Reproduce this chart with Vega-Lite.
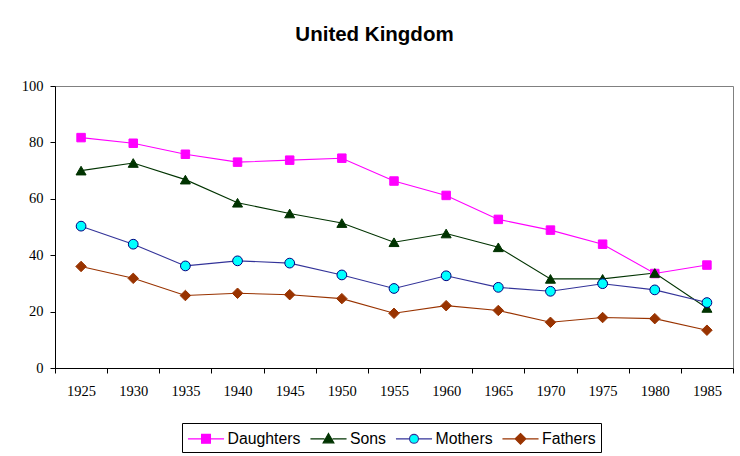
{
  "$schema": "https://vega.github.io/schema/vega-lite/v6.json",
  "autosize": {"type": "none"},
  "width": 678,
  "height": 282,
  "padding": {"left": 55, "top": 86, "right": 7, "bottom": 88},
  "background": "white",
  "title": {
    "text": "United Kingdom",
    "font": "Liberation Sans",
    "fontSize": 20.5,
    "fontWeight": "bold",
    "color": "black",
    "anchor": "middle",
    "dx": -19.5,
    "offset": 33
  },
  "data": {
    "values": [
      {"year": "1925", "series": "Daughters", "value": 81.7},
      {"year": "1930", "series": "Daughters", "value": 79.7},
      {"year": "1935", "series": "Daughters", "value": 75.8},
      {"year": "1940", "series": "Daughters", "value": 73.0},
      {"year": "1945", "series": "Daughters", "value": 73.7},
      {"year": "1950", "series": "Daughters", "value": 74.4},
      {"year": "1955", "series": "Daughters", "value": 66.3},
      {"year": "1960", "series": "Daughters", "value": 61.2},
      {"year": "1965", "series": "Daughters", "value": 52.7},
      {"year": "1970", "series": "Daughters", "value": 48.9},
      {"year": "1975", "series": "Daughters", "value": 43.9},
      {"year": "1980", "series": "Daughters", "value": 33.5},
      {"year": "1985", "series": "Daughters", "value": 36.5},
      {"year": "1925", "series": "Sons", "value": 70.0},
      {"year": "1930", "series": "Sons", "value": 72.7},
      {"year": "1935", "series": "Sons", "value": 66.8},
      {"year": "1940", "series": "Sons", "value": 58.6},
      {"year": "1945", "series": "Sons", "value": 54.8},
      {"year": "1950", "series": "Sons", "value": 51.4},
      {"year": "1955", "series": "Sons", "value": 44.6},
      {"year": "1960", "series": "Sons", "value": 47.7},
      {"year": "1965", "series": "Sons", "value": 42.8},
      {"year": "1970", "series": "Sons", "value": 31.6},
      {"year": "1975", "series": "Sons", "value": 31.6},
      {"year": "1980", "series": "Sons", "value": 33.7},
      {"year": "1985", "series": "Sons", "value": 21.3},
      {"year": "1925", "series": "Mothers", "value": 50.3},
      {"year": "1930", "series": "Mothers", "value": 43.9},
      {"year": "1935", "series": "Mothers", "value": 36.2},
      {"year": "1940", "series": "Mothers", "value": 38.0},
      {"year": "1945", "series": "Mothers", "value": 37.2},
      {"year": "1950", "series": "Mothers", "value": 33.0},
      {"year": "1955", "series": "Mothers", "value": 28.2},
      {"year": "1960", "series": "Mothers", "value": 32.7},
      {"year": "1965", "series": "Mothers", "value": 28.6},
      {"year": "1970", "series": "Mothers", "value": 27.2},
      {"year": "1975", "series": "Mothers", "value": 29.9},
      {"year": "1980", "series": "Mothers", "value": 27.7},
      {"year": "1985", "series": "Mothers", "value": 23.2},
      {"year": "1925", "series": "Fathers", "value": 36.0},
      {"year": "1930", "series": "Fathers", "value": 31.8},
      {"year": "1935", "series": "Fathers", "value": 25.7},
      {"year": "1940", "series": "Fathers", "value": 26.5},
      {"year": "1945", "series": "Fathers", "value": 26.0},
      {"year": "1950", "series": "Fathers", "value": 24.6},
      {"year": "1955", "series": "Fathers", "value": 19.4},
      {"year": "1960", "series": "Fathers", "value": 22.1},
      {"year": "1965", "series": "Fathers", "value": 20.4},
      {"year": "1970", "series": "Fathers", "value": 16.2},
      {"year": "1975", "series": "Fathers", "value": 17.9},
      {"year": "1980", "series": "Fathers", "value": 17.5},
      {"year": "1985", "series": "Fathers", "value": 13.4}
    ]
  },
  "encoding": {
    "x": {
      "field": "year",
      "type": "ordinal",
      "bandPosition": 0.5,
      "scale": {"type": "band", "paddingInner": 0, "paddingOuter": 0},
      "axis": {
        "title": null,
        "labelAngle": 0,
        "tickBand": "extent",
        "tickSize": 5,
        "tickColor": "black",
        "domainColor": "black",
        "labelPadding": 11,
        "labelFont": "Liberation Serif",
        "labelFontSize": 14.5,
        "labelColor": "black",
        "grid": false
      }
    },
    "y": {
      "field": "value",
      "type": "quantitative",
      "scale": {"domain": [0, 100], "nice": false},
      "axis": {
        "title": null,
        "values": [0, 20, 40, 60, 80, 100],
        "grid": false,
        "tickSize": 5,
        "tickColor": "black",
        "domainColor": "black",
        "labelPadding": 7,
        "labelFont": "Liberation Serif",
        "labelFontSize": 14.5,
        "labelColor": "black"
      }
    }
  },
  "layer": [
    {
      "mark": {"type": "line", "strokeWidth": 1.1},
      "encoding": {
        "color": {
          "field": "series",
          "type": "nominal",
          "scale": {
            "domain": ["Daughters", "Sons", "Mothers", "Fathers"],
            "range": ["#FF00FF", "#003300", "#333399", "#993300"]
          },
          "legend": {
            "title": null,
            "orient": "none",
            "legendX": 127,
            "legendY": 337,
            "direction": "horizontal",
            "symbolSize": 361,
            "symbolOffset": 8.5,
            "symbolStrokeWidth": 1.1,
            "labelFont": "Liberation Sans",
            "labelFontSize": 15.8,
            "labelColor": "black",
            "labelOffset": 11,
            "columnPadding": 6.5,
            "padding": 5,
            "strokeColor": "black",
            "encode": {
              "symbols": {
                "update": {
                  "shape": {"signal": "datum.value === 'Daughters' ? 'M-1.9,0H-0.47M0.47,0H1.9M-0.47,-0.47H0.47V0.47H-0.47Z' : datum.value === 'Sons' ? 'M-1.9,0H-0.42M0.42,0H1.9M0,-0.57L0.57,0.42H-0.57Z' : datum.value === 'Mothers' ? 'M-1.9,0H-0.47M0.47,0H1.9M-0.47,0A0.47,0.47 0 1,0 0.47,0A0.47,0.47 0 1,0 -0.47,0Z' : 'M-1.9,0H-0.57M0.57,0H1.9M0,-0.57L0.57,0L0,0.57L-0.57,0Z'"},
                  "fill": {"signal": "datum.value === 'Daughters' ? '#FF00FF' : datum.value === 'Sons' ? '#003300' : datum.value === 'Mothers' ? '#00FFFF' : '#993300'"},
                  "stroke": {"signal": "datum.value === 'Daughters' ? '#FF00FF' : datum.value === 'Sons' ? '#003300' : datum.value === 'Mothers' ? '#333399' : '#993300'"},
                  "strokeWidth": {"value": 1.1},
                  "size": {"value": 361},
                  "opacity": {"value": 1},
                  "fillOpacity": {"value": 1}
                }
              }
            }
          }
        }
      }
    },
    {
      "transform": [{"filter": "datum.series === 'Daughters'"}],
      "mark": {"type": "point", "shape": "square", "filled": true, "opacity": 1, "fill": "#FF00FF", "stroke": "#FF00FF", "strokeWidth": 1, "size": 72}
    },
    {
      "transform": [{"filter": "datum.series === 'Sons'"}],
      "mark": {"type": "point", "shape": "triangle-up", "filled": true, "opacity": 1, "fill": "#003300", "stroke": "#003300", "strokeWidth": 1, "size": 100}
    },
    {
      "transform": [{"filter": "datum.series === 'Mothers'"}],
      "mark": {"type": "point", "shape": "circle", "filled": true, "opacity": 1, "fill": "#00FFFF", "stroke": "#000080", "strokeWidth": 1, "size": 95}
    },
    {
      "transform": [{"filter": "datum.series === 'Fathers'"}],
      "mark": {"type": "point", "shape": "diamond", "filled": true, "opacity": 1, "fill": "#993300", "stroke": "#993300", "strokeWidth": 1, "size": 110}
    }
  ],
  "config": {
    "view": {"stroke": "#808080", "strokeWidth": 1}
  }
}
